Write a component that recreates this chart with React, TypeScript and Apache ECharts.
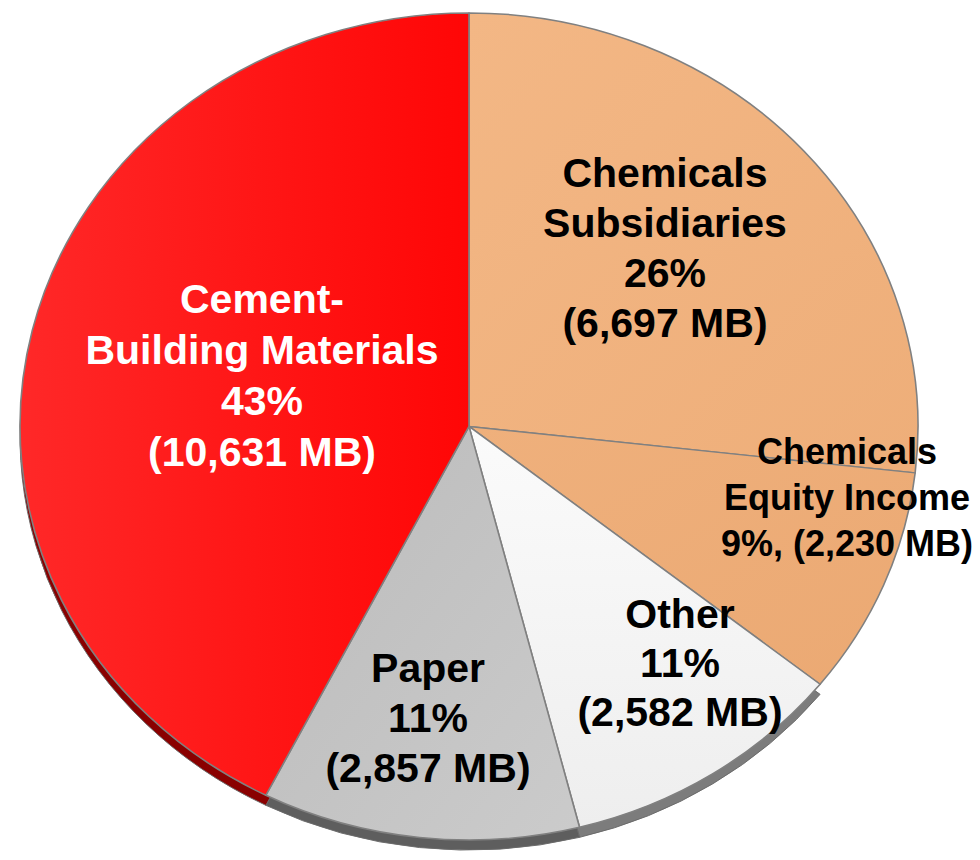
import React, { useEffect, useRef } from "react";
import * as echarts from "echarts";

// Revenue breakdown by business segment, clockwise from 12 o'clock
const categories = [
  "Chemicals\nSubsidiaries",
  "Chemicals\nEquity Income",
  "Other",
  "Paper",
  "Cement-\nBuilding Materials",
];
const revenueMB = [6697, 2230, 2582, 2857, 10631];
const sharePct = [26, 9, 11, 11, 43];

// slice fills (gradient start / end) and the darker side wall below each slice
const topColors = [
  ["#F3B785", "#EEAE79"],
  ["#EFB07C", "#EBA973"],
  ["#FBFBFB", "#EEEEEE"],
  ["#BBBBBB", "#CBCBCB"],
  ["#FF2828", "#FF0606"],
];
const gradientDir = [
  [0, 0, 1, 1],
  [0, 0, 1, 1],
  [0, 0, 0, 1],
  [0, 0, 1, 1],
  [0, 0, 1, 0],
];
const rimColors = ["#FFFFFF", "#FFFFFF", "#7C7C7C", "#5E5E5E", "#8A0000"];
const rimBorder = [0, 0, 1, 1, 1];

// label placement in page pixels
const labelPos = [
  [665, 248],
  [847, 497],
  [680, 663],
  [428, 718],
  [262, 375],
];
const labelSize = [41, 36, 41, 41, 41];
const labelLineH = [50, 46, 49, 50, 51];
const labelFill = ["#000000", "#000000", "#000000", "#000000", "#FFFFFF"];

// the pie is tilted: drawn round, then flattened vertically
const SCALE_Y = 0.921;
const PIE_H = Math.round(860 / SCALE_Y);
const PIE_CX = 469;
const PIE_CY = 463;
const PIE_R = 449;
const RIM_DROP = 11;

const fmt = (v: number) => v.toLocaleString("en-US");

function labelText(i: number) {
  const body = `${sharePct[i]}%`;
  const mb = `(${fmt(revenueMB[i])} MB)`;
  return i === 1
    ? `${categories[i]}\n${body}, ${mb}`
    : `${categories[i]}\n${body}\n${mb}`;
}

export default function App() {
  const pieRef = useRef<HTMLDivElement>(null);
  const textRef = useRef<HTMLDivElement>(null);

  useEffect(() => {
    const pie = echarts.init(pieRef.current!, null, { renderer: "svg" });
    const txt = echarts.init(textRef.current!, null, { renderer: "svg" });

    pie.setOption({
      animation: false,
      series: [
        {
          type: "pie",
          silent: true,
          center: [PIE_CX, PIE_CY + RIM_DROP],
          radius: PIE_R,
          startAngle: 90,
          clockwise: true,
          label: { show: false },
          labelLine: { show: false },
          data: revenueMB.map((v, i) => ({
            value: v,
            name: categories[i],
            itemStyle: {
              color: rimColors[i],
              borderColor: "#6A6A6A",
              borderWidth: rimBorder[i],
            },
          })),
          z: 1,
        },
        {
          type: "pie",
          silent: true,
          center: [PIE_CX, PIE_CY],
          radius: PIE_R,
          startAngle: 90,
          clockwise: true,
          label: { show: false },
          labelLine: { show: false },
          itemStyle: { borderColor: "#808080", borderWidth: 1.6 },
          data: revenueMB.map((v, i) => ({
            value: v,
            name: categories[i],
            itemStyle: {
              color: new echarts.graphic.LinearGradient(
                gradientDir[i][0],
                gradientDir[i][1],
                gradientDir[i][2],
                gradientDir[i][3],
                [
                  { offset: 0, color: topColors[i][0] },
                  { offset: 1, color: topColors[i][1] },
                ]
              ),
            },
          })),
          z: 2,
        },
      ],
    });

    txt.setOption({
      animation: false,
      graphic: categories.map((_, i) => ({
        type: "text",
        x: labelPos[i][0],
        y: labelPos[i][1],
        silent: true,
        style: {
          text: labelText(i),
          align: "center",
          verticalAlign: "middle",
          fontFamily: '"Liberation Sans", Arial, sans-serif',
          fontWeight: "bold",
          fontSize: labelSize[i],
          lineHeight: labelLineH[i],
          fill: labelFill[i],
        },
      })),
    });

    return () => {
      pie.dispose();
      txt.dispose();
    };
  }, []);

  return (
    <div
      style={{
        position: "absolute",
        left: 0,
        top: 0,
        width: 980,
        height: 860,
        overflow: "hidden",
        background: "#FFFFFF",
      }}
    >
      <div
        ref={pieRef}
        style={{
          position: "absolute",
          left: 0,
          top: 0,
          width: 980,
          height: PIE_H,
          transform: `scaleY(${SCALE_Y})`,
          transformOrigin: "0 0",
        }}
      />
      <div
        ref={textRef}
        style={{ position: "absolute", left: 0, top: 0, width: 980, height: 860 }}
      />
    </div>
  );
}
